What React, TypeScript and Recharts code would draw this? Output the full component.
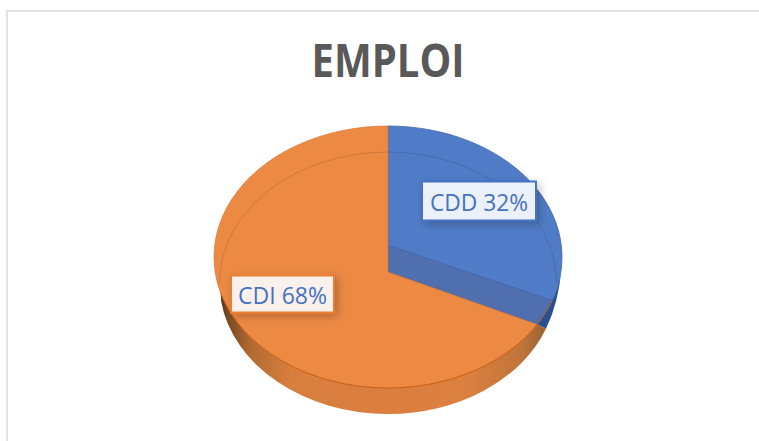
import React from 'react';
import { PieChart, Pie } from 'recharts';

const categories = ['CDD', 'CDI'];
const shares = [32, 68];
const chartTitle = 'EMPLOI';
const tableData = categories.map((name, i) => ({ name, value: shares[i] }));

const W = 759;
const H = 441;
const CX = 388;
const CY = 257;
const RX = 174;
const RY = 131;
const DEPTH = 26;
const BRX = 168.5;
const TILT = 5.8;

const pt = (cx: number, cy: number, rx: number, ry: number, deg: number) => {
  const a = (deg * Math.PI) / 180;
  return [cx + rx * Math.cos(a), cy - ry * Math.sin(a)];
};
const P = (p: number[]) => `${p[0].toFixed(2)} ${p[1].toFixed(2)}`;

function Slice3D(props: any) {
  const { cx, cy, outerRadius, startAngle, endAngle, name } = props;
  const rx = outerRadius;
  const ry = (outerRadius * RY) / RX;
  const top = (d: number) => pt(cx, cy, rx, ry, d);
  const bot = (d: number) => pt(cx, cy + DEPTH, BRX, ry, d);
  const arcT = `A ${rx} ${ry} 0`;
  const arcB = `A ${BRX} ${ry} 0`;

  if (name === categories[0]) {
    const faceEnd = endAngle + TILT;
    const bandEnd = endAngle - TILT;
    const face = `M ${cx} ${cy - 12} L ${P(top(startAngle))} ${arcT} 0 1 ${P(top(faceEnd))} Z`;
    const band = `M ${cx} ${cy - 12} L ${P(top(faceEnd))} ${arcT} 0 1 ${P(top(bandEnd))} L ${cx} ${cy + 15} Z`;
    const b = bot(-20.3);
    const sliver = `M ${P(top(-4))} ${arcT} 0 1 ${P(top(bandEnd))} L ${P(b)} Q ${cx + 171} ${cy + 45} ${P(top(-4))} Z`;
    return (
      <g>
        <defs>
          <filter id="boxShadow" x="-20%" y="-30%" width="140%" height="170%">
            <feDropShadow dx="3" dy="3" stdDeviation="4" floodColor="#000" floodOpacity="0.24" />
          </filter>
          <linearGradient id="wallOrange" gradientUnits="userSpaceOnUse" x1={cx - 170} x2={cx + 160} y1="0" y2="0">
            <stop offset="0" stopColor="#4a2d16" />
            <stop offset="0.03" stopColor="#7a4a22" />
            <stop offset="0.1" stopColor="#b26a32" />
            <stop offset="0.22" stopColor="#d87e3e" />
            <stop offset="0.75" stopColor="#dc8040" />
            <stop offset="0.92" stopColor="#c0743a" />
            <stop offset="1" stopColor="#946036" />
          </linearGradient>
        </defs>
        <path d={sliver} fill="#2b4f8f" />
        <path d={band} fill="#4f6fae" stroke="#3e629f" strokeWidth={0.8} />
        <path d={face} fill="#507cc7" stroke="#3f67ad" strokeWidth={0.8} />
      </g>
    );
  }

  const faceStart = startAngle - TILT;
  const face = `M ${cx} ${cy + 15} L ${P(top(faceStart))} ${arcT} 1 1 ${P(top(endAngle))} Z`;
  const wallB = bot(-20.3);
  const wall = `M ${P(top(faceStart))} ${arcT} 0 1 ${P(top(196))} L ${P(bot(188))} ${arcB} 0 0 ${P(bot(270))} ${arcB} 0 0 ${P(wallB)} Z`;
  const rim = `M ${P(top(196))} ${arcT} 0 0 ${P(top(270))} ${arcT} 0 0 ${P(top(startAngle + TILT))}`;
  const inner = `M ${P(bot(180))} ${arcB} 0 1 ${P(bot(90))} ${arcB} 0 1 ${P(bot(0))}`;
  return (
    <g>
      <path d={wall} fill="url(#wallOrange)" />
      <path d={face} fill="#ec8a44" stroke="#d9742f" strokeWidth={0.7} />
      <path d={rim} fill="none" stroke="#c55a11" strokeWidth={0.9} />
      <path d={inner} fill="none" stroke="#000" strokeOpacity={0.16} strokeWidth={0.8} />
    </g>
  );
}

const boxStyles = [
  { dx: 91, dy: -56, w: 114, h: 39, fill: '#ecf1f9', stroke: '#4472c4', tw: 98 },
  { dx: -105.5, dy: 37, w: 103, h: 37, fill: '#fbf1ec', stroke: '#ed7d31', tw: 89 },
];

function SliceLabel(props: any) {
  const { cx, cy, name, value } = props;
  const s = boxStyles[categories.indexOf(name)];
  const x = cx + s.dx;
  const y = cy + s.dy;
  return (
    <g>
      <rect x={x - s.w / 2} y={y - s.h / 2} width={s.w} height={s.h} fill={s.fill} stroke={s.stroke} strokeWidth={2} filter="url(#boxShadow)" />
      <text
        x={x}
        y={y + 9.5}
        textAnchor="middle"
        fontFamily="'Open Sans', sans-serif"
        fontSize={23.5}
        fill="#4472c4"
        textLength={s.tw}
        lengthAdjust="spacingAndGlyphs"
      >
        {`${name} ${value}%`}
      </text>
    </g>
  );
}

export default function App() {
  return (
    <div style={{ position: 'absolute', left: 0, top: 0, width: W, height: H, overflow: 'hidden', background: '#fff' }}>
      <div style={{ position: 'absolute', left: 6, top: 10, width: W + 20, height: H + 20, border: '2px solid #e2e2e2', boxSizing: 'border-box' }} />
      <svg width={W} height={H} style={{ position: 'absolute', left: 0, top: 0 }}>
        <text
          x={388}
          y={77}
          textAnchor="middle"
          fontFamily="'Open Sans', sans-serif"
          fontWeight={700}
          fontSize={47}
          fill="#595959"
          textLength={153}
          lengthAdjust="spacingAndGlyphs"
        >
          {chartTitle}
        </text>
      </svg>
      <div style={{ position: 'absolute', left: 0, top: 0 }}>
        <PieChart width={W} height={H} margin={{ top: 0, right: 0, bottom: 0, left: 0 }}>
          <Pie
            data={tableData}
            dataKey="value"
            nameKey="name"
            cx={CX}
            cy={CY}
            innerRadius={0}
            outerRadius={RX}
            startAngle={90}
            endAngle={-270}
            stroke="none"
            shape={Slice3D}
            label={SliceLabel}
            labelLine={false}
            isAnimationActive={false}
          />
        </PieChart>
      </div>
    </div>
  );
}
